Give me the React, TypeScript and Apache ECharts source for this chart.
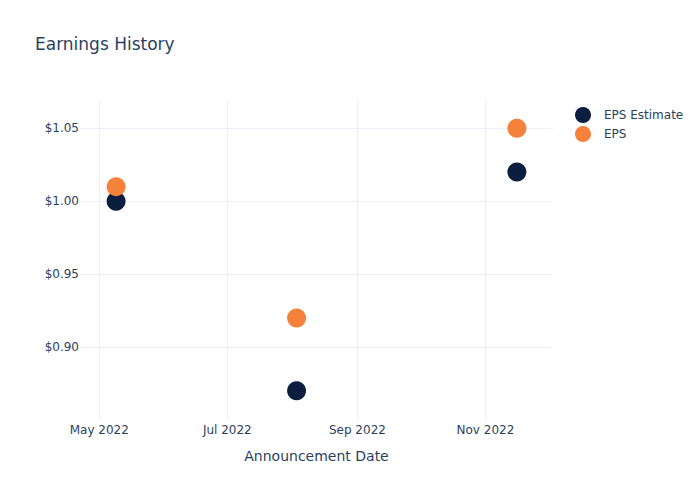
import React, { useEffect, useRef } from "react";
import * as echarts from "echarts";

const DAY = 24 * 3600 * 1000;
const dates: [number, number, number][] = [
  [2022, 4, 9],
  [2022, 7, 3],
  [2022, 10, 16],
];
const epsEstimate = [1.0, 0.87, 1.02];
const eps = [1.01, 0.92, 1.05];
const xTickDates: [number, number, number][] = [
  [2022, 4, 1],
  [2022, 6, 1],
  [2022, 8, 1],
  [2022, 10, 1],
];
const yTicks = [0.9, 0.95, 1.0, 1.05];
const monthNames = ["Jan", "Feb", "Mar", "Apr", "May", "Jun", "Jul", "Aug", "Sep", "Oct", "Nov", "Dec"];

const ts = (d: [number, number, number]) => new Date(d[0], d[1], d[2]).getTime();

export default function App() {
  const ref = useRef<HTMLDivElement>(null);
  useEffect(() => {
    if (!ref.current) return;
    const chart = echarts.init(ref.current, null, { renderer: "svg" });
    const xs = dates.map(ts);
    const font = "DejaVu Sans, Verdana, sans-serif";
    const textColor = "#2a3f5f";
    const grid = "#EBF0F8";
    chart.setOption({
      animation: false,
      backgroundColor: "#fff",
      textStyle: { fontFamily: font },
      title: {
        text: "Earnings History",
        left: 35,
        top: 35,
        padding: 0,
        textStyle: { fontFamily: font, fontSize: 17, fontWeight: "normal", color: textColor },
      },
      legend: {
        orient: "vertical",
        left: 575,
        top: 107,
        itemWidth: 32,
        itemHeight: 16,
        itemGap: 3,
        icon: "circle",
        padding: 0,
        textStyle: { fontFamily: font, fontSize: 12, color: textColor },
        data: ["EPS Estimate", "EPS"],
      },
      grid: { left: 80, top: 100, right: 147, bottom: 80, containLabel: false },
      xAxis: {
        type: "value",
        scale: true,
        min: xs[0] - 17.2 * DAY,
        max: xs[2] + 17.2 * DAY,
        name: "Announcement Date",
        nameLocation: "middle",
        nameGap: 29,
        nameTextStyle: { fontFamily: font, fontSize: 14, color: textColor },
        axisLine: { show: false },
        axisTick: { show: false, customValues: xTickDates.map(ts) },
        axisLabel: {
          customValues: xTickDates.map(ts),
          margin: 4,
          fontFamily: font,
          fontSize: 12,
          color: textColor,
          formatter: (v: number) => {
            const d = new Date(v);
            return monthNames[d.getMonth()] + " " + d.getFullYear();
          },
        },
        splitLine: { show: true, lineStyle: { color: grid, width: 1 } },
      },
      yAxis: {
        type: "value",
        min: 0.85,
        max: 1.0694,
        axisLine: { show: false },
        axisTick: { show: false, customValues: yTicks },
        axisLabel: {
          customValues: yTicks,
          margin: 1,
          fontFamily: font,
          fontSize: 12,
          color: textColor,
          formatter: (v: number) => "$" + v.toFixed(2),
        },
        splitLine: { show: true, lineStyle: { color: grid, width: 1 } },
      },
      series: [
        {
          name: "EPS Estimate",
          type: "scatter",
          symbolSize: 19,
          itemStyle: { color: "#0B1E3F", opacity: 1 },
          data: xs.map((x, i) => [x, epsEstimate[i]]),
        },
        {
          name: "EPS",
          type: "scatter",
          symbolSize: 19,
          itemStyle: { color: "#F5813A", opacity: 1 },
          data: xs.map((x, i) => [x, eps[i]]),
        },
      ],
    });
    return () => chart.dispose();
  }, []);
  return (
    <div
      ref={ref}
      style={{ position: "absolute", left: 0, top: 0, width: 700, height: 500 }}
    />
  );
}
